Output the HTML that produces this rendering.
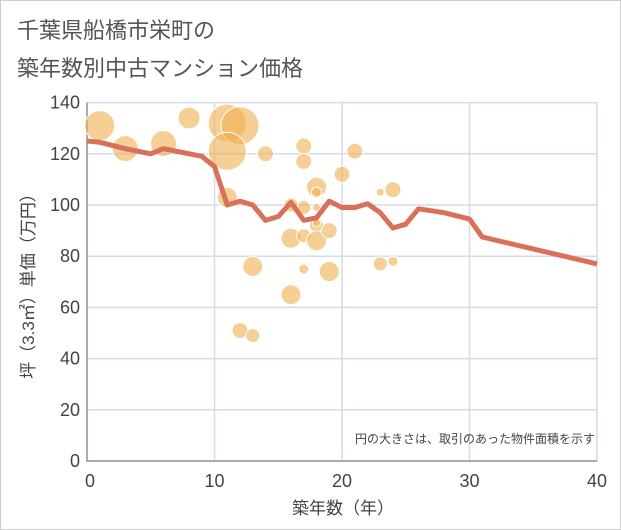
<!DOCTYPE html>
<html><head><meta charset="utf-8"><style>
body{margin:0;background:#fff;}
.wrap{position:relative;width:619px;height:528px;border:1px solid #ccc;background:#fff;font-family:"Liberation Sans","Noto Sans CJK JP",sans-serif;}
.title{position:absolute;left:16px;top:11px;font-size:22px;line-height:38px;color:#555;}
</style></head><body>
<div class="wrap">
<div class="title">千葉県船橋市栄町の<br>築年数別中古マンション価格</div>
<svg id="chart" width="621" height="530" style="position:absolute;left:-1px;top:-1px"></svg>
</div>
<script>
const xTicks=[0,10,20,30,40];
const yTicks=[0,20,40,60,80,100,120,140];
const bubbleAge=[1,3,6,8,11,12,11,14,11,17,17,18,18,20,21,23,24,16,17,17,16,18,18,18,18,19,13,17,19,23,24,16,12,13];
const bubblePrice=[131,122,124,134,132,131,121,120,103,123,117,107,105,112,121,105,106,87,88,99,100,99,92,86,93,90,76,75,74,77,78,65,51,49];
const bubbleSize=[15,13,13,11,19,19,19,8,10,8,8,10,5,8,8,4,8,10,7,7,7,4,7,10,4,8,10,5,10,7,5,10,8,7];
const lineAge=[0,1,3,5,6,9,10,11,12,13,14,15,16,17,18,19,20,21,22,23,24,25,26,28,30,31,40];
const linePrice=[125,124.5,122,120,122,119,115,100,101.5,100,94,95.5,101,94,95,101.5,99,99,100.5,97,91,92.5,98.5,97,94.5,87.5,77];
const X0=87,XS=12.75,Y0=461,YS=2.56;
const sx=v=>X0+v*XS, sy=v=>Y0-v*YS;
const svg=document.getElementById('chart');
const NS='http://www.w3.org/2000/svg';
function mk(t,a){const e=document.createElementNS(NS,t);for(const k in a)e.setAttribute(k,a[k]);svg.appendChild(e);return e;}
yTicks.forEach(v=>{
 const g=mk('line',{x1:sx(0),x2:sx(40),y1:sy(v),y2:sy(v),stroke:'#d3dce8','stroke-width':1.5});
 
 
 const t=mk('text',{x:80,y:sy(v)+6,'text-anchor':'end','font-size':18,fill:'#444'});
 t.textContent=v;
 
 
});
xTicks.forEach(v=>{
 const g=mk('line',{x1:sx(v),x2:sx(v),y1:sy(0),y2:sy(140),stroke:'#d3dce8','stroke-width':1.5});
 
 
 const t=mk('text',{x:sx(v)+(v==0?3:0),y:487,'text-anchor':'middle','font-size':18,fill:'#444'});
 t.textContent=v;
 
 
});
const ax=mk('path',{d:`M${sx(0)} ${sy(140)}V${sy(0)}H${sx(40)}`,stroke:'#8a97a8','stroke-width':1.5,fill:'none'});


bubbleAge.forEach((a,i)=>{
 const c=mk('circle',{cx:sx(a),cy:sy(bubblePrice[i]),r:bubbleSize[i],fill:'rgba(240,175,80,0.6)',stroke:'#fff','stroke-width':1});
 
 
});
const p=mk('polyline',{points:lineAge.map((a,i)=>sx(a)+','+sy(linePrice[i])).join(' '),fill:'none',stroke:'#d9705a','stroke-width':5,'stroke-linejoin':'round'});


const xt=mk('text',{x:343,y:514,'text-anchor':'middle','font-size':17,fill:'#444'});
xt.textContent='築年数（年）';


const yt=mk('text',{x:0,y:0,'text-anchor':'middle','font-size':17,fill:'#444',transform:'translate(34,282) rotate(-90)'});
yt.textContent='坪（3.3㎡）単価（万円）';


const note=mk('text',{x:595,y:443,'text-anchor':'end','font-size':12,fill:'#444'});
note.textContent='円の大きさは、取引のあった物件面積を示す';


</script>
</body></html>
